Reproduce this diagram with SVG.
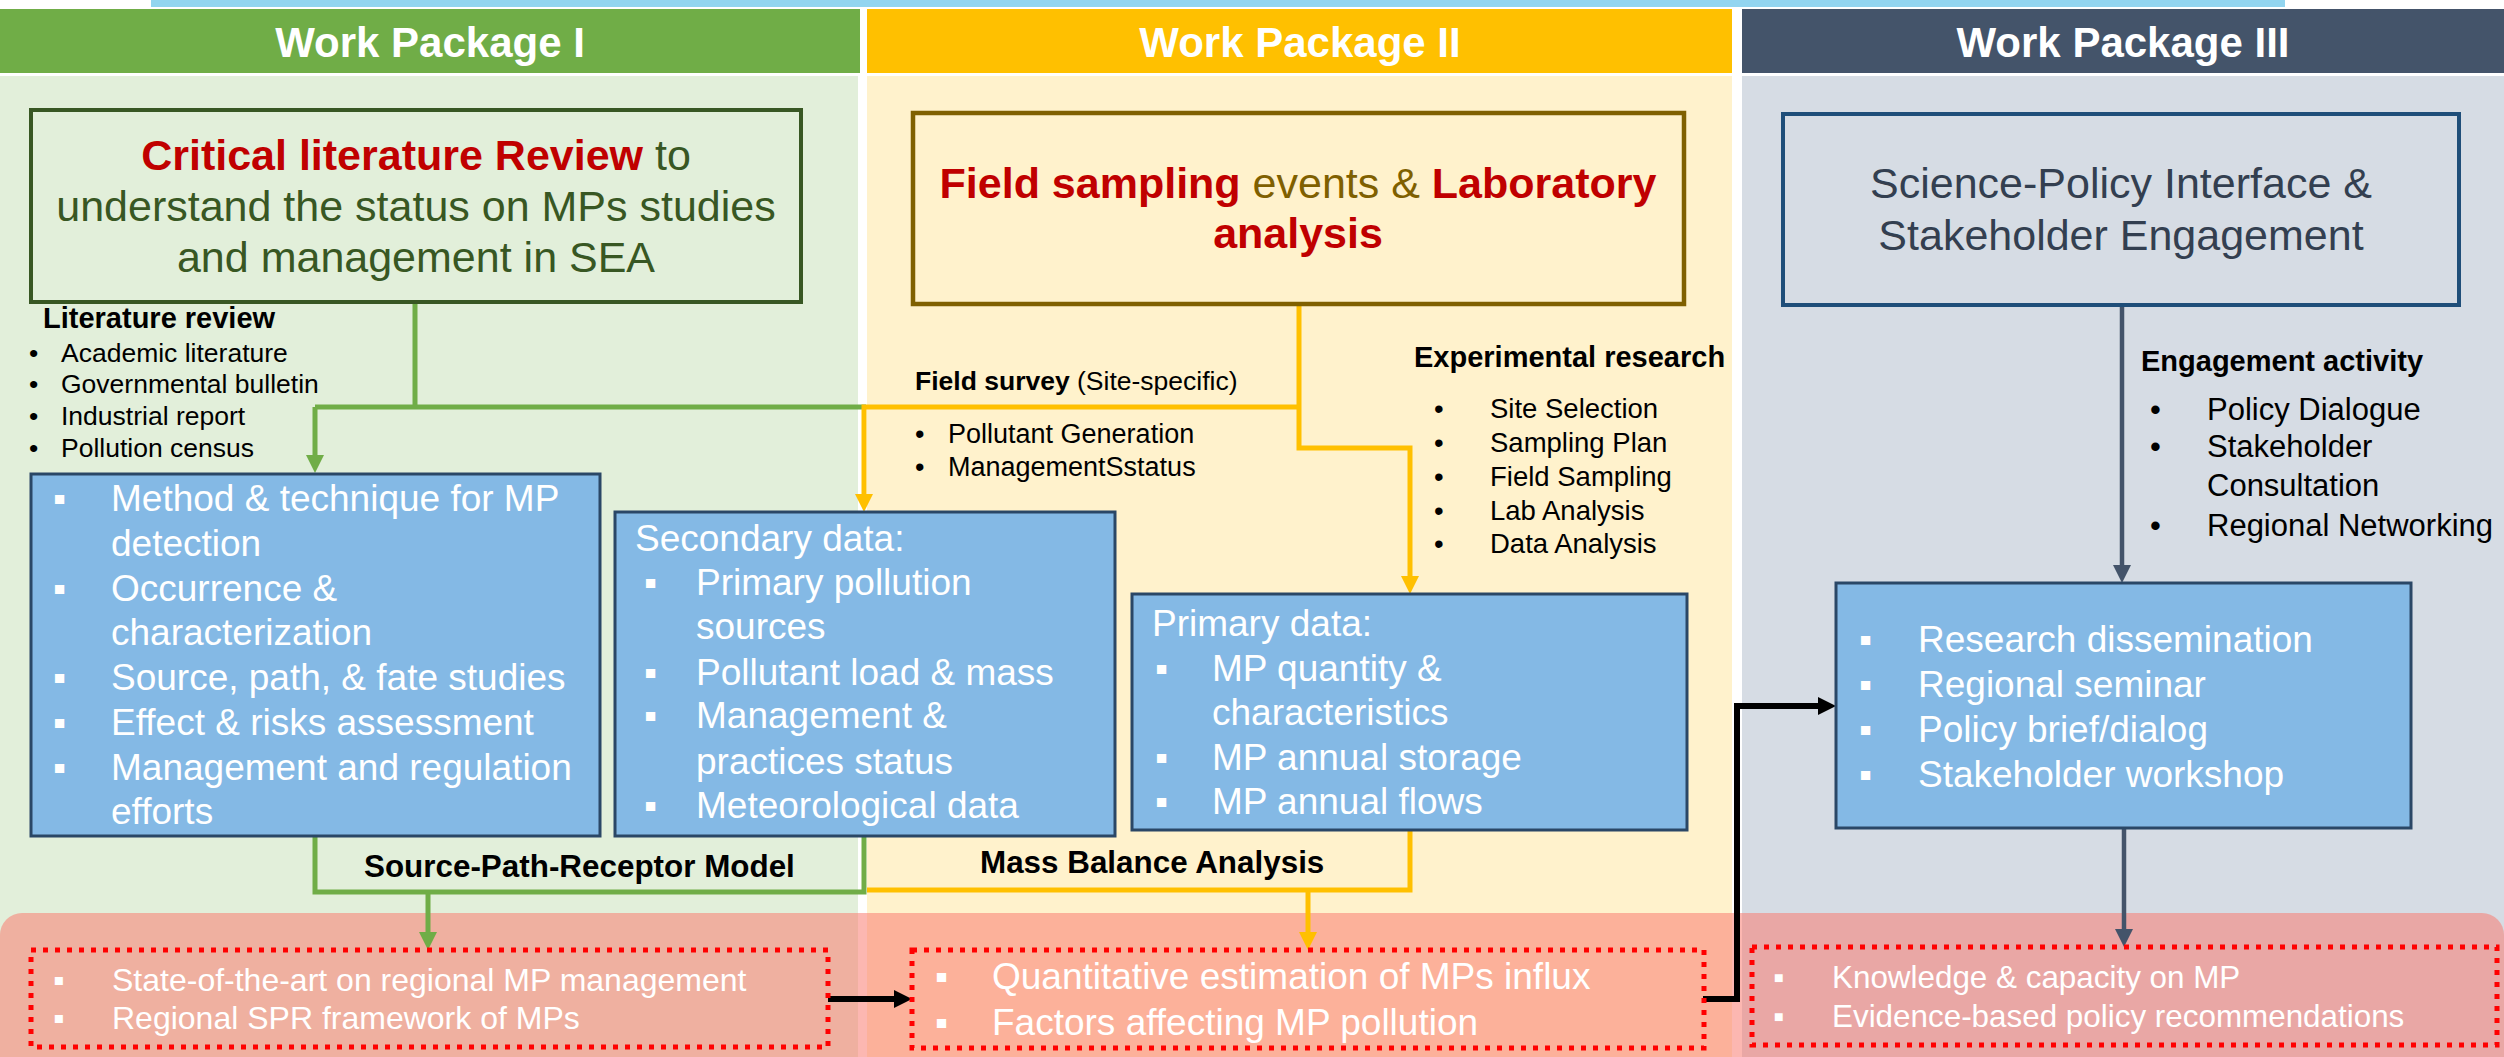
<svg xmlns="http://www.w3.org/2000/svg" width="2504" height="1057" viewBox="0 0 2504 1057">
<defs>
<style>
text{font-family:'Liberation Sans',Arial,sans-serif}
.hdr{font-size:42px;font-weight:bold;fill:#fff;text-anchor:middle}
.ttl{font-size:43px;text-anchor:middle}
.red{fill:#C00000;font-weight:bold}
.box{fill:#84B9E5;stroke:#2A4766;stroke-width:3}
.w37{font-size:37px;fill:#fff}
.dot{fill:none;stroke:#FF0000;stroke-width:5;stroke-dasharray:5 7}
.lb{font-weight:bold;fill:#000}
.bl{fill:#000}
.g{fill:none;stroke:#70AD47;stroke-width:5}
.o{fill:none;stroke:#FFC000;stroke-width:5}
.d{fill:none;stroke:#44546A;stroke-width:4.5}
.k{fill:none;stroke:#000;stroke-width:6}
</style>
<marker id="mg" markerUnits="userSpaceOnUse" markerWidth="18" markerHeight="18" refX="0" refY="9" orient="auto"><path d="M0,0L18,9L0,18z" fill="#70AD47"/></marker>
<marker id="mo" markerUnits="userSpaceOnUse" markerWidth="18" markerHeight="18" refX="0" refY="9" orient="auto"><path d="M0,0L18,9L0,18z" fill="#FFC000"/></marker>
<marker id="md" markerUnits="userSpaceOnUse" markerWidth="18" markerHeight="18" refX="0" refY="9" orient="auto"><path d="M0,0L18,9L0,18z" fill="#44546A"/></marker>
<marker id="mk" markerUnits="userSpaceOnUse" markerWidth="18" markerHeight="18" refX="0" refY="9" orient="auto"><path d="M0,0L18,9L0,18z" fill="#000"/></marker>
</defs>

<g id="background">
<rect x="151" y="0" width="2134" height="7" fill="#92D5F0"/>
<rect x="0" y="76" width="858" height="981" fill="#E2EFDA"/>
<rect x="867" y="76" width="865" height="981" fill="#FFF2CC"/>
<rect x="1742" y="76" width="762" height="981" fill="#D6DCE4"/>
<rect x="0" y="913" width="2504" height="170" rx="22" fill="#F97C71" fill-opacity="0.55"/>
</g>

<g id="wp1-header">
<rect x="0" y="9" width="860" height="64" fill="#70AD47"/>
<text class="hdr" x="430" y="57">Work Package I</text>
</g>
<g id="wp2-header">
<rect x="867" y="9" width="865" height="64" fill="#FFC000"/>
<text class="hdr" x="1300" y="57">Work Package II</text>
</g>
<g id="wp3-header">
<rect x="1742" y="9" width="762" height="64" fill="#44546A"/>
<text class="hdr" x="2123" y="57">Work Package III</text>
</g>

<g id="connectors">
<path class="g" d="M415,302V407M315,407H866"/>
<path class="g" d="M315,407V455" marker-end="url(#mg)"/>
<path class="o" d="M1299,304V448H1410V576" marker-end="url(#mo)"/>
<path class="o" d="M1299,407H864V494" marker-end="url(#mo)"/>
<path class="o" d="M1410,830V890H867"/>
<path class="o" d="M1308,890V932" marker-end="url(#mo)"/>
<path class="g" d="M315,836V892H864V836"/>
<path class="g" d="M428,892V932" marker-end="url(#mg)"/>
<path class="d" d="M2122,305V565" marker-end="url(#md)"/>
<path class="d" d="M2124,828V929" marker-end="url(#md)"/>
<path class="k" d="M828,999H894" marker-end="url(#mk)"/>
<path class="k" d="M1703,999H1737V706H1818" marker-end="url(#mk)"/>
</g>

<g id="wp1-title">
<rect x="31" y="110" width="770" height="192" fill="none" stroke="#385723" stroke-width="4"/>
<text class="ttl" x="416" y="170" fill="#385723"><tspan class="red">Critical literature Review</tspan> to</text>
<text class="ttl" x="416" y="221" fill="#385723">understand the status on MPs studies</text>
<text class="ttl" x="416" y="272" fill="#385723">and management in SEA</text>
</g>

<g id="literature-review">
<text class="lb" x="43" y="328" font-size="29">Literature review</text>
<g class="bl" font-size="26.5">
<text x="29" y="362">•</text><text x="61" y="362">Academic literature</text>
<text x="29" y="393">•</text><text x="61" y="393">Governmental bulletin</text>
<text x="29" y="425">•</text><text x="61" y="425">Industrial report</text>
<text x="29" y="457">•</text><text x="61" y="457">Pollution census</text>
</g>
</g>

<g id="wp1-methods">
<rect class="box" x="31" y="474" width="569" height="362"/>
<g class="w37">
<text x="53" y="511">▪</text><text x="111" y="511">Method &amp; technique for MP</text>
<text x="111" y="556">detection</text>
<text x="53" y="601">▪</text><text x="111" y="601">Occurrence &amp;</text>
<text x="111" y="645">characterization</text>
<text x="53" y="690">▪</text><text x="111" y="690">Source, path, &amp; fate studies</text>
<text x="53" y="735">▪</text><text x="111" y="735">Effect &amp; risks assessment</text>
<text x="53" y="780">▪</text><text x="111" y="780">Management and regulation</text>
<text x="111" y="824">efforts</text>
</g>
</g>

<g id="wp2-title">
<rect x="913" y="113" width="771" height="191" fill="none" stroke="#7F6000" stroke-width="4.5"/>
<text class="ttl" x="1298" y="198" fill="#7F6000"><tspan class="red">Field sampling</tspan> events &amp; <tspan class="red">Laboratory</tspan></text>
<text class="ttl red" x="1298" y="248">analysis</text>
</g>

<g id="field-survey">
<text x="915" y="390" font-size="26.5" class="bl"><tspan font-weight="bold">Field survey</tspan> (Site-specific)</text>
<g class="bl" font-size="27">
<text x="915" y="443">•</text><text x="948" y="443">Pollutant Generation</text>
<text x="915" y="476">•</text><text x="948" y="476">ManagementSstatus</text>
</g>
</g>

<g id="experimental-research">
<text class="lb" x="1414" y="367" font-size="29">Experimental research</text>
<g class="bl" font-size="27.5">
<text x="1434" y="418">•</text><text x="1490" y="418">Site Selection</text>
<text x="1434" y="452">•</text><text x="1490" y="452">Sampling Plan</text>
<text x="1434" y="486">•</text><text x="1490" y="486">Field Sampling</text>
<text x="1434" y="520">•</text><text x="1490" y="520">Lab Analysis</text>
<text x="1434" y="553">•</text><text x="1490" y="553">Data Analysis</text>
</g>
</g>

<g id="secondary-data">
<rect class="box" x="615" y="512" width="500" height="324"/>
<g class="w37">
<text x="635" y="551">Secondary data:</text>
<text x="644" y="595">▪</text><text x="696" y="595">Primary pollution</text>
<text x="696" y="639">sources</text>
<text x="644" y="685">▪</text><text x="696" y="685">Pollutant load &amp; mass</text>
<text x="644" y="728">▪</text><text x="696" y="728">Management &amp;</text>
<text x="696" y="774">practices status</text>
<text x="644" y="818">▪</text><text x="696" y="818">Meteorological data</text>
</g>
</g>

<g id="primary-data">
<rect class="box" x="1132" y="594" width="555" height="236"/>
<g class="w37">
<text x="1152" y="636">Primary data:</text>
<text x="1155" y="681">▪</text><text x="1212" y="681">MP quantity &amp;</text>
<text x="1212" y="725">characteristics</text>
<text x="1155" y="770">▪</text><text x="1212" y="770">MP annual storage</text>
<text x="1155" y="814">▪</text><text x="1212" y="814">MP annual flows</text>
</g>
</g>

<g id="wp3-title">
<rect x="1783" y="114" width="676" height="191" fill="none" stroke="#1F4E79" stroke-width="4"/>
<text class="ttl" x="2121" y="198" fill="#333F50">Science-Policy Interface &amp;</text>
<text class="ttl" x="2121" y="250" fill="#333F50">Stakeholder Engagement</text>
</g>

<g id="engagement-activity">
<text class="lb" x="2141" y="371" font-size="29">Engagement activity</text>
<g class="bl" font-size="31">
<text x="2150" y="420">•</text><text x="2207" y="420">Policy Dialogue</text>
<text x="2150" y="457">•</text><text x="2207" y="457">Stakeholder</text>
<text x="2207" y="496">Consultation</text>
<text x="2150" y="536">•</text><text x="2207" y="536">Regional Networking</text>
</g>
</g>

<g id="dissemination">
<rect class="box" x="1836" y="583" width="575" height="245"/>
<g class="w37">
<text x="1859" y="652">▪</text><text x="1918" y="652">Research dissemination</text>
<text x="1859" y="697">▪</text><text x="1918" y="697">Regional seminar</text>
<text x="1859" y="742">▪</text><text x="1918" y="742">Policy brief/dialog</text>
<text x="1859" y="787">▪</text><text x="1918" y="787">Stakeholder workshop</text>
</g>
</g>

<g class="lb" font-size="31.4">
<text id="spr-label" x="364" y="877">Source-Path-Receptor Model</text>
<text id="mba-label" x="980" y="873">Mass Balance Analysis</text>
</g>

<g id="outcome-wp1">
<rect class="dot" x="31" y="950" width="797" height="97"/>
<g fill="#fff" font-size="32">
<text x="53" y="991">▪</text><text x="112" y="991">State-of-the-art on regional MP management</text>
<text x="53" y="1029">▪</text><text x="112" y="1029">Regional SPR framework of MPs</text>
</g>
</g>

<g id="outcome-wp2">
<rect class="dot" x="912" y="950" width="792" height="98"/>
<g fill="#fff" font-size="37">
<text x="935" y="989">▪</text><text x="992" y="989">Quantitative estimation of MPs influx</text>
<text x="935" y="1035">▪</text><text x="992" y="1035">Factors affecting MP pollution</text>
</g>
</g>

<g id="outcome-wp3">
<rect class="dot" x="1752" y="947" width="745" height="98"/>
<g fill="#fff" font-size="31.4">
<text x="1773" y="988">▪</text><text x="1832" y="988">Knowledge &amp; capacity on MP</text>
<text x="1773" y="1027">▪</text><text x="1832" y="1027">Evidence-based policy recommendations</text>
</g>
</g>
</svg>
